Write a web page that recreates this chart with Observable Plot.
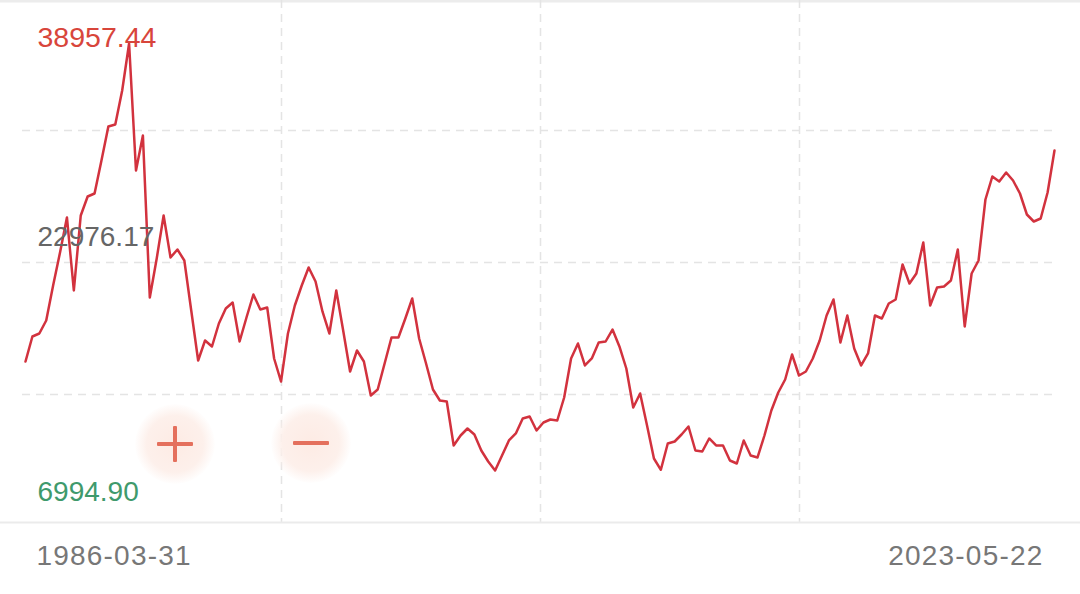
<!DOCTYPE html>
<html><head><meta charset="utf-8">
<script src="https://cdn.jsdelivr.net/npm/d3@7"></script>
<script src="https://cdn.jsdelivr.net/npm/@observablehq/plot@0.6"></script>
<style>
html,body{margin:0;padding:0;background:#fff;}
#wrap{position:relative;width:1080px;height:594px;overflow:hidden;font-family:"Liberation Sans",Arial,sans-serif;}
.btn{position:absolute;width:80px;height:80px;border-radius:50%;background:radial-gradient(circle,#fdebe4 0%,#fdf0eb 50%,rgba(255,255,255,0) 72%);}
.bar{position:absolute;background:#e4705d;border-radius:1px;}
text.datelbl{letter-spacing:1.2px;}
</style></head><body><div id="wrap"></div>
<script>
// Date labels shown under the chart
const dateLabels = ["1986-03-31", "2023-05-22"];
// Index level, roughly quarterly
const values = [
  15155, 17026, 17251, 18224, 20844, 23314, 25934, 20469, 26083, 27505,
  27730, 30200, 32745, 32895, 35439, 38957.44, 29451, 32071, 19946, 22865,
  26083, 22940, 23538, 22715, 18972, 15230, 16727, 16278, 17999, 19122,
  19571, 16652, 18449, 20170, 19047, 19197, 15380, 13658, 17251, 19347,
  20844, 22191, 21143, 18898, 17251, 20469, 17475, 14407, 15978, 15155,
  12610, 13059, 15005, 16952, 16952, 18374, 19871, 16877, 15005, 13059,
  12236, 12161, 8868, 9616, 10140, 9691, 8493, 7670, 6994.90, 8119,
  9242, 9766, 10889, 11038, 9990, 10589, 10814, 10739, 12461, 15380,
  16502, 14856, 15380, 16577, 16652, 17550, 16278, 14631, 11712, 12760,
  10365, 7895, 7049, 9017, 9167, 9691, 10290, 8493, 8419, 9392,
  8868, 8868, 7745, 7520, 9242, 8119, 7970, 9616, 11487, 12835,
  13808, 15679, 14107, 14407, 15380, 16727, 18598, 19796, 16577, 18598,
  16128, 14856, 15754, 18598, 18374, 19496, 19796, 22416, 20993, 21742,
  24062, 19347, 20694, 20769, 21218, 23538, 17775, 21742, 22715, 27281,
  29002, 28628, 29302, 28703, 27730, 26158, 25634, 25859, 27805, 30948
];
// Value levels of the dashed horizontal guide lines
const gridY = [12685, 22565, 32446];
// Visible value range of the plot area (bottom, top)
const yDomain = [3104, 42176];

const n = values.length;
const data = values.map((v, i) => ({i, v}));
const vmax = d3.max(values), vmin = d3.min(values), vmid = (vmax + vmin) / 2;
const xDomain = [-0.434, n - 1 + 0.58];
const gridX = [1, 2, 3].map(k => xDomain[0] + k * (xDomain[1] - xDomain[0]) / 4);
const fmt = d3.format(".2f");
const font = '"Liberation Sans", Arial, sans-serif';

const chart = Plot.plot({
  width: 1080, height: 594,
  marginTop: 0, marginBottom: 72, marginLeft: 22, marginRight: 22,
  x: {domain: xDomain, axis: null},
  y: {domain: yDomain, axis: null},
  style: {fontFamily: font, background: "transparent", overflow: "visible"},
  marks: [
    Plot.ruleY([yDomain[1]], {stroke: "#ececec", strokeWidth: 4, insetLeft: -22, insetRight: -22}),
    Plot.ruleX(gridX, {stroke: "#e4e4e4", strokeWidth: 1.5, strokeDasharray: "8,6"}),
    Plot.ruleY(gridY, {stroke: "#e4e4e4", strokeWidth: 1.5, strokeDasharray: "8,6"}),
    Plot.ruleY([yDomain[0]], {stroke: "#ebebeb", strokeWidth: 2, insetLeft: -22, insetRight: -22}),
    Plot.line(data, {x: "i", y: "v", stroke: "#d2323e", strokeWidth: 2.5}),
    Plot.text([vmax], {y: d => d, frameAnchor: "left", dx: 15, dy: 4, text: d => fmt(d), fill: "#d8453b", fontSize: 28.5, textAnchor: "start", lineAnchor: "bottom"}),
    Plot.text([vmid], {y: d => d, frameAnchor: "left", dx: 15, dy: -11.5, text: d => fmt(d), fill: "#666666", fontSize: 28, textAnchor: "start", lineAnchor: "bottom"}),
    Plot.text([vmin], {y: d => d, frameAnchor: "left", dx: 15, dy: 30, text: d => fmt(d), fill: "#3f9a6c", fontSize: 28, textAnchor: "start", lineAnchor: "bottom"}),
    Plot.text([{i: 0, t: dateLabels[0]}], {x: "i", frameAnchor: "bottom", text: "t", dx: 11, dy: 42, fill: "#777777", fontSize: 28, textAnchor: "start", lineAnchor: "bottom", className: "datelbl"}),
    Plot.text([{i: n - 1, t: dateLabels[1]}], {x: "i", frameAnchor: "bottom", text: "t", dx: -11, dy: 42, fill: "#777777", fontSize: 28, textAnchor: "end", lineAnchor: "bottom", className: "datelbl"})
  ]
});
const wrap = document.getElementById("wrap");
wrap.appendChild(chart);
d3.select(chart).selectAll("g.datelbl text").style("letter-spacing", "1.2px");

// zoom buttons (UI decoration)
function addBtn(cx, cy, plus) {
  const b = document.createElement("div");
  b.className = "btn";
  b.style.left = (cx - 40) + "px"; b.style.top = (cy - 40) + "px";
  wrap.appendChild(b);
  const h = document.createElement("div");
  h.className = "bar";
  h.style.left = (cx - 18) + "px"; h.style.top = (cy - 2) + "px";
  h.style.width = "36px"; h.style.height = "4px";
  wrap.appendChild(h);
  if (plus) {
    const v = document.createElement("div");
    v.className = "bar";
    v.style.left = (cx - 2) + "px"; v.style.top = (cy - 18) + "px";
    v.style.width = "4px"; v.style.height = "36px";
    wrap.appendChild(v);
  }
}
addBtn(175, 444, true);
addBtn(311, 443, false);
</script>
</body></html>
